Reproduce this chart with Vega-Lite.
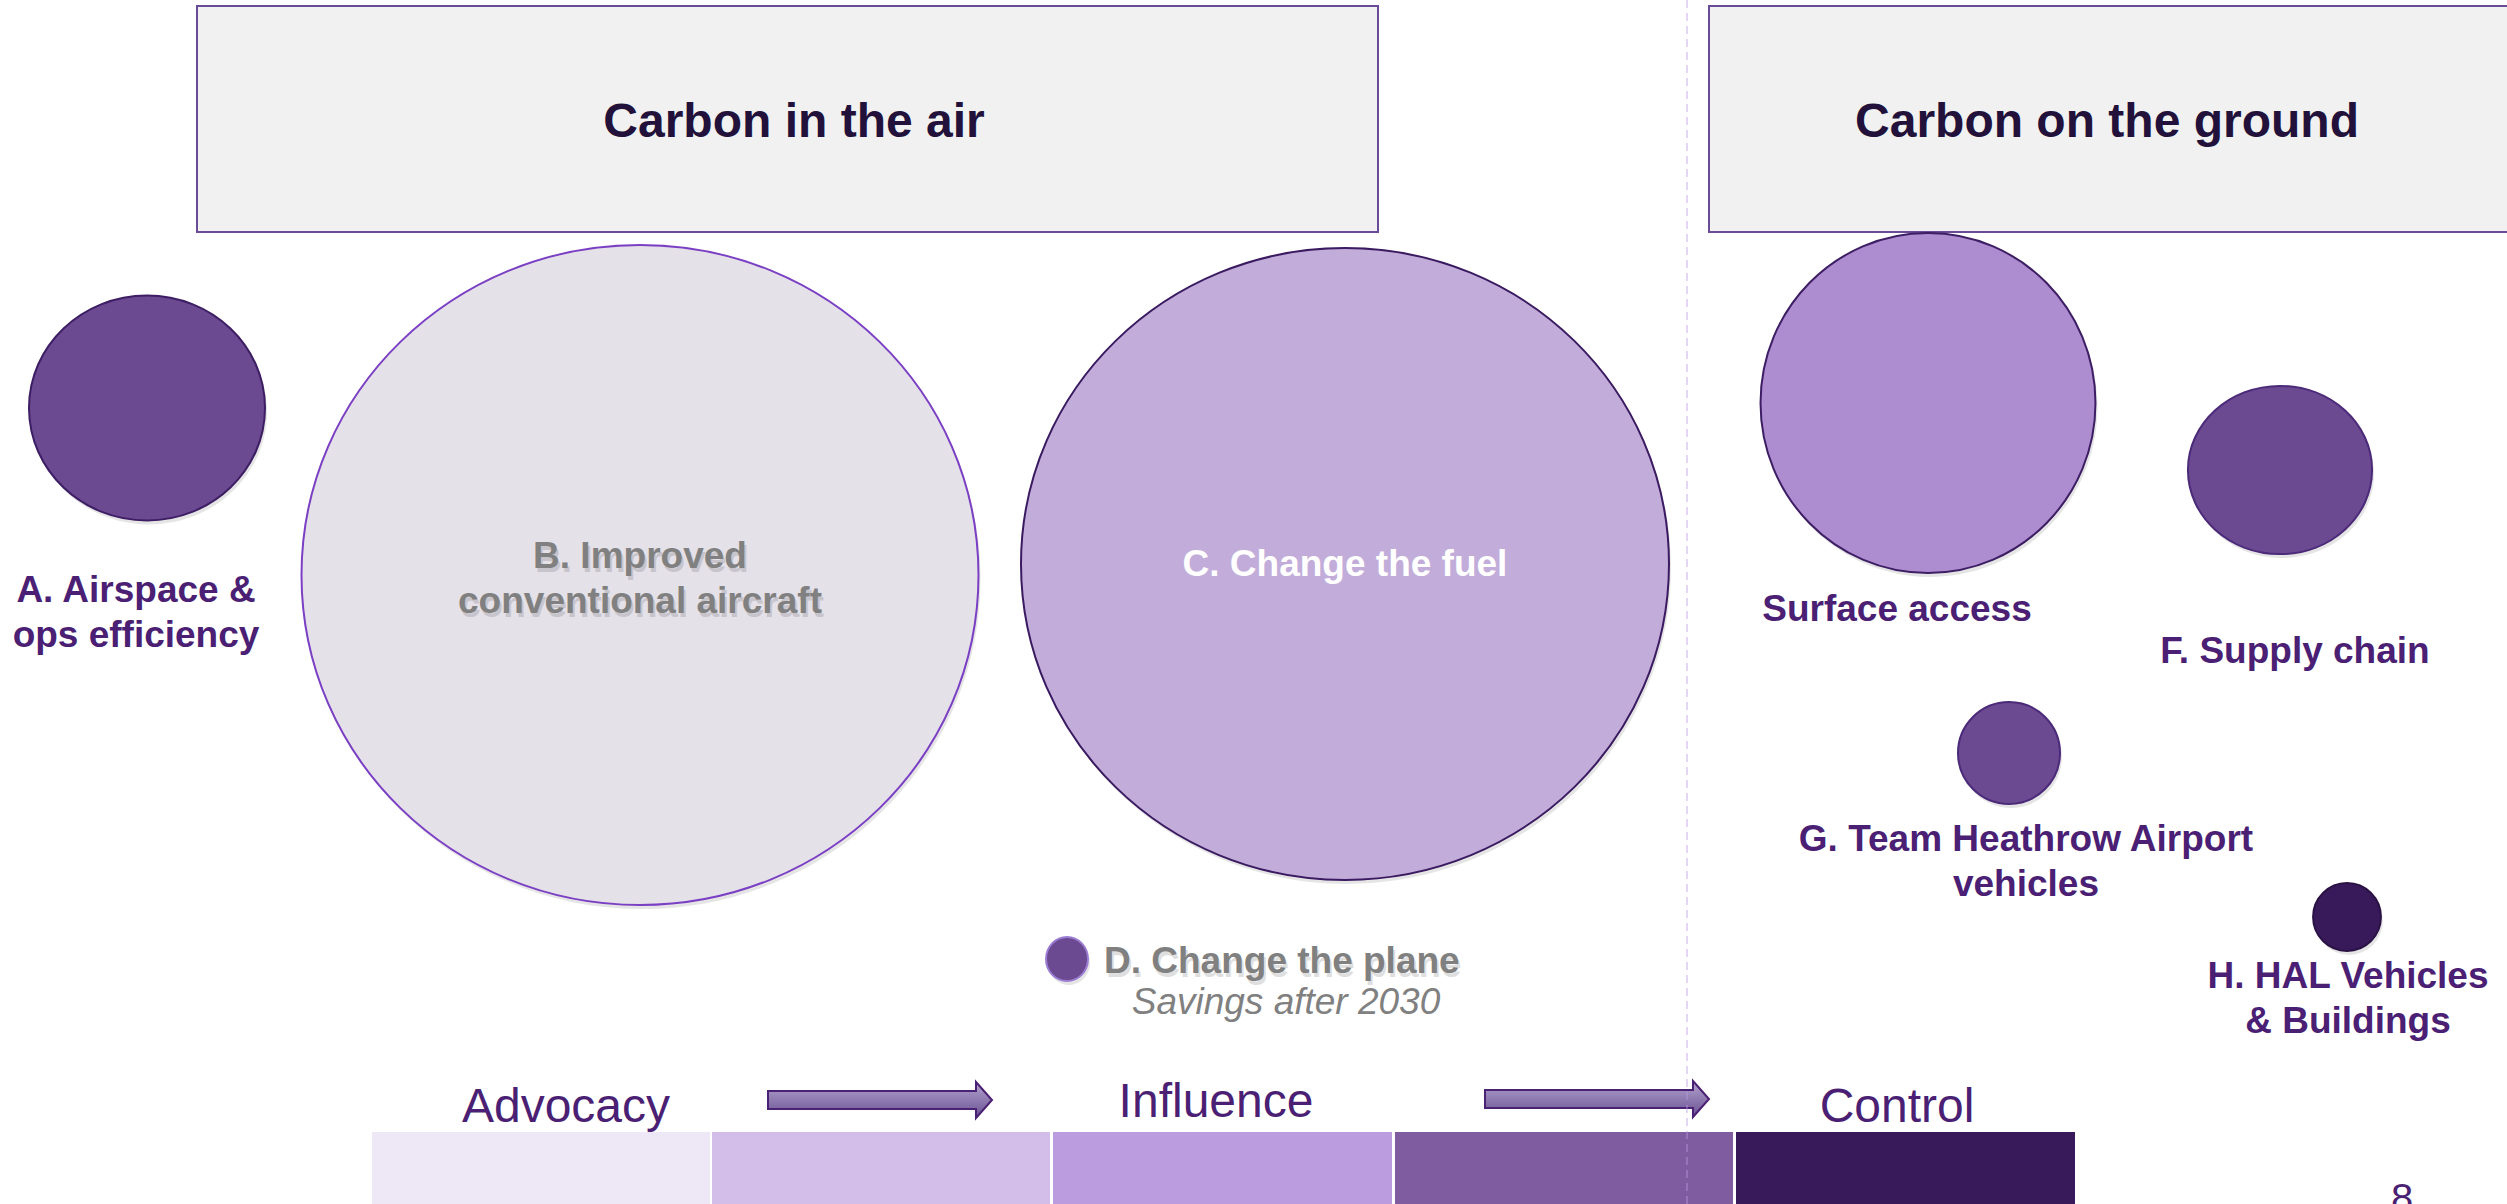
{
  "$schema": "https://vega.github.io/schema/vega-lite/v6.json",
  "width": 2507,
  "height": 1204,
  "autosize": {"type": "none"},
  "padding": 0,
  "background": "#FFFFFF",
  "config": {"view": {"stroke": null}, "font": "Liberation Sans"},
  "datasets": {
    "boxes": [
      {"name": "air", "x": 197, "x2": 1378, "y": 6, "y2": 232},
      {"name": "ground", "x": 1709, "x2": 2530, "y": 6, "y2": 232}
    ],
    "bubbles": [
      {"item": "A", "x": 147, "y": 408, "value": 557},
      {"item": "B", "x": 640, "y": 575, "value": 4583},
      {"item": "C", "x": 1345, "y": 564, "value": 4199},
      {"item": "D", "x": 1067, "y": 959, "value": 17.6},
      {"item": "E", "x": 1928, "y": 403, "value": 1122},
      {"item": "F", "x": 2280, "y": 470, "value": 339},
      {"item": "G", "x": 2009, "y": 753, "value": 104},
      {"item": "H", "x": 2347, "y": 917, "value": 46}
    ],
    "labels": [
      {"kind": "header", "text": "Carbon in the air", "x": 794, "y": 123},
      {"kind": "header", "text": "Carbon on the ground", "x": 2107, "y": 123},
      {"kind": "bubble", "text": "A. Airspace &\nops efficiency", "x": 136, "y": 591},
      {"kind": "grey", "text": "B. Improved\nconventional aircraft", "x": 640, "y": 557},
      {"kind": "white", "text": "C. Change the fuel", "x": 1345, "y": 565},
      {"kind": "future", "text": "D. Change the plane", "x": 1104, "y": 962},
      {"kind": "note", "text": "Savings after 2030", "x": 1286, "y": 1003},
      {"kind": "bubble", "text": "Surface access", "x": 1897, "y": 610},
      {"kind": "bubble", "text": "F. Supply chain", "x": 2295, "y": 652},
      {"kind": "bubble", "text": "G. Team Heathrow Airport\nvehicles", "x": 2026, "y": 840},
      {"kind": "bubble", "text": "H. HAL Vehicles\n& Buildings", "x": 2348, "y": 977},
      {"kind": "scale", "text": "Advocacy", "x": 566, "y": 1108},
      {"kind": "scale", "text": "Influence", "x": 1216, "y": 1103},
      {"kind": "scale", "text": "Control", "x": 1897, "y": 1108},
      {"kind": "page", "text": "8", "x": 2402, "y": 1212}
    ],
    "blocks": [
      {"level": "1", "x": 372, "x2": 710, "y": 1132, "y2": 1210},
      {"level": "2", "x": 712, "x2": 1050, "y": 1132, "y2": 1210},
      {"level": "3", "x": 1053, "x2": 1392, "y": 1132, "y2": 1210},
      {"level": "4", "x": 1395, "x2": 1733, "y": 1132, "y2": 1210},
      {"level": "5", "x": 1736, "x2": 2075, "y": 1132, "y2": 1210}
    ],
    "arrows": [
      {"step": "advocacy to influence", "x": 880, "y": 1100},
      {"step": "influence to control", "x": 1597, "y": 1099}
    ],
    "divider": [
      {"x": 1687, "y": 0, "y2": 1204}
    ]
  },
  "encoding": {
    "x": {"field": "x", "type": "quantitative", "scale": {"domain": [0, 2507], "nice": false, "zero": false}, "axis": null},
    "y": {"field": "y", "type": "quantitative", "scale": {"domain": [0, 1204], "nice": false, "zero": false, "reverse": true}, "axis": null}
  },
  "resolve": {"scale": {"fill": "independent", "stroke": "independent", "size": "independent"}},
  "layer": [
    {
      "data": {"name": "boxes"},
      "mark": {"type": "rect", "fill": "#F1F1F1", "stroke": "#6A4B98", "strokeWidth": 2, "clip": true},
      "encoding": {"x2": {"field": "x2"}, "y2": {"field": "y2"}}
    },
    {
      "data": {"name": "bubbles"},
      "mark": {"type": "point", "filled": true, "fill": "#000000", "opacity": 0.1, "strokeWidth": 0, "xOffset": 2, "yOffset": 4},
      "encoding": {
        "size": {"field": "value", "type": "quantitative", "scale": {"domain": [0, 100], "range": [0, 10000]}, "legend": null},
        "shape": {"field": "item", "type": "nominal", "scale": {"domain": ["A", "B", "C", "D", "E", "F", "G", "H"], "range": ["M-1,0A1,0.953 0 1,0 1,0A1,0.953 0 1,0 -1,0Z", "M-1,0A1,0.975 0 1,0 1,0A1,0.975 0 1,0 -1,0Z", "M-1,0A1,0.975 0 1,0 1,0A1,0.975 0 1,0 -1,0Z", "M-1,0A1,1.05 0 1,0 1,0A1,1.05 0 1,0 -1,0Z", "M-1,0A1,1.015 0 1,0 1,0A1,1.015 0 1,0 -1,0Z", "M-1,0A1,0.913 0 1,0 1,0A1,0.913 0 1,0 -1,0Z", "circle", "circle"]}, "legend": null}
      }
    },
    {
      "data": {"name": "bubbles"},
      "mark": {"type": "point", "filled": true, "opacity": 1, "strokeWidth": 2},
      "encoding": {
        "size": {"field": "value", "type": "quantitative", "scale": {"domain": [0, 100], "range": [0, 10000]}, "legend": null},
        "shape": {"field": "item", "type": "nominal", "scale": {"domain": ["A", "B", "C", "D", "E", "F", "G", "H"], "range": ["M-1,0A1,0.953 0 1,0 1,0A1,0.953 0 1,0 -1,0Z", "M-1,0A1,0.975 0 1,0 1,0A1,0.975 0 1,0 -1,0Z", "M-1,0A1,0.975 0 1,0 1,0A1,0.975 0 1,0 -1,0Z", "M-1,0A1,1.05 0 1,0 1,0A1,1.05 0 1,0 -1,0Z", "M-1,0A1,1.015 0 1,0 1,0A1,1.015 0 1,0 -1,0Z", "M-1,0A1,0.913 0 1,0 1,0A1,0.913 0 1,0 -1,0Z", "circle", "circle"]}, "legend": null},
        "fill": {"field": "item", "type": "nominal", "scale": {"domain": ["A", "B", "C", "D", "E", "F", "G", "H"], "range": ["#6C4A91", "#E4E1E9", "#C2ADDA", "#6C4A91", "#AD8CD0", "#6C4A91", "#6C4A91", "#381A5A"]}, "legend": null},
        "stroke": {"field": "item", "type": "nominal", "scale": {"domain": ["A", "B", "C", "D", "E", "F", "G", "H"], "range": ["#3D1E64", "#7B3FC4", "#3A1A60", "#9C7DD4", "#3D1E64", "#4B2A7A", "#4B2A7A", "#2A1245"]}, "legend": null}
      }
    },
    {
      "data": {"name": "labels"},
      "transform": [{"filter": "datum.kind === 'header'"}],
      "mark": {"type": "text", "fontSize": 48, "fontWeight": "bold", "color": "#22113A", "align": "center", "baseline": "middle"},
      "encoding": {"text": {"field": "text"}}
    },
    {
      "data": {"name": "labels"},
      "transform": [{"filter": "datum.kind === 'bubble'"}],
      "mark": {"type": "text", "fontSize": 37, "fontWeight": "bold", "color": "#4A1F74", "align": "center", "baseline": "middle", "lineBreak": "\n", "lineHeight": 45},
      "encoding": {"text": {"field": "text"}}
    },
    {
      "data": {"name": "labels"},
      "transform": [{"filter": "datum.kind === 'grey'"}],
      "mark": {"type": "text", "fontSize": 37, "fontWeight": "bold", "color": "#000000", "opacity": 0.12, "dx": 2, "dy": 4, "align": "center", "baseline": "middle", "lineBreak": "\n", "lineHeight": 45},
      "encoding": {"text": {"field": "text"}}
    },
    {
      "data": {"name": "labels"},
      "transform": [{"filter": "datum.kind === 'future'"}],
      "mark": {"type": "text", "fontSize": 37, "fontWeight": "bold", "color": "#000000", "opacity": 0.12, "dx": 2, "dy": 4, "align": "left", "baseline": "middle"},
      "encoding": {"text": {"field": "text"}}
    },
    {
      "data": {"name": "labels"},
      "transform": [{"filter": "datum.kind === 'grey'"}],
      "mark": {"type": "text", "fontSize": 37, "fontWeight": "bold", "color": "#808080", "align": "center", "baseline": "middle", "lineBreak": "\n", "lineHeight": 45},
      "encoding": {"text": {"field": "text"}}
    },
    {
      "data": {"name": "labels"},
      "transform": [{"filter": "datum.kind === 'white'"}],
      "mark": {"type": "text", "fontSize": 37, "fontWeight": "bold", "color": "#FFFFFF", "align": "center", "baseline": "middle"},
      "encoding": {"text": {"field": "text"}}
    },
    {
      "data": {"name": "labels"},
      "transform": [{"filter": "datum.kind === 'future'"}],
      "mark": {"type": "text", "fontSize": 37, "fontWeight": "bold", "color": "#808080", "align": "left", "baseline": "middle"},
      "encoding": {"text": {"field": "text"}}
    },
    {
      "data": {"name": "labels"},
      "transform": [{"filter": "datum.kind === 'note'"}],
      "mark": {"type": "text", "fontSize": 37, "fontStyle": "italic", "color": "#808080", "align": "center", "baseline": "middle"},
      "encoding": {"text": {"field": "text"}}
    },
    {
      "data": {"name": "blocks"},
      "mark": {"type": "rect"},
      "encoding": {
        "x2": {"field": "x2"},
        "y2": {"field": "y2"},
        "fill": {"field": "level", "type": "nominal", "scale": {"domain": ["1", "2", "3", "4", "5"], "range": ["#EEE8F6", "#D3BEEA", "#BB9DDF", "#7F5CA0", "#381A5A"]}, "legend": null}
      }
    },
    {
      "data": {"name": "arrows"},
      "mark": {"type": "point", "filled": true, "shape": "M-1,-0.08L0.857,-0.08L0.857,-0.161L1,0L0.857,0.161L0.857,0.08L-1,0.08Z", "size": 50176, "opacity": 1, "stroke": "#4A2173", "strokeWidth": 2, "fill": {"gradient": "linear", "x1": 0, "y1": 0, "x2": 0, "y2": 1, "stops": [{"offset": 0, "color": "#B3A3CF"}, {"offset": 1, "color": "#6A5192"}]}}
    },
    {
      "data": {"name": "labels"},
      "transform": [{"filter": "datum.kind === 'scale'"}],
      "mark": {"type": "text", "fontSize": 48, "color": "#4A1F74", "align": "center", "baseline": "middle"},
      "encoding": {"text": {"field": "text"}}
    },
    {
      "data": {"name": "labels"},
      "transform": [{"filter": "datum.kind === 'page'"}],
      "mark": {"type": "text", "fontSize": 40, "color": "#4A1F74", "align": "center", "baseline": "alphabetic"},
      "encoding": {"text": {"field": "text"}}
    },
    {
      "data": {"name": "divider"},
      "mark": {"type": "rule", "stroke": "#B89AE0", "strokeWidth": 2, "opacity": 0.4, "strokeDash": [8, 5]},
      "encoding": {"y2": {"field": "y2"}}
    }
  ]
}
